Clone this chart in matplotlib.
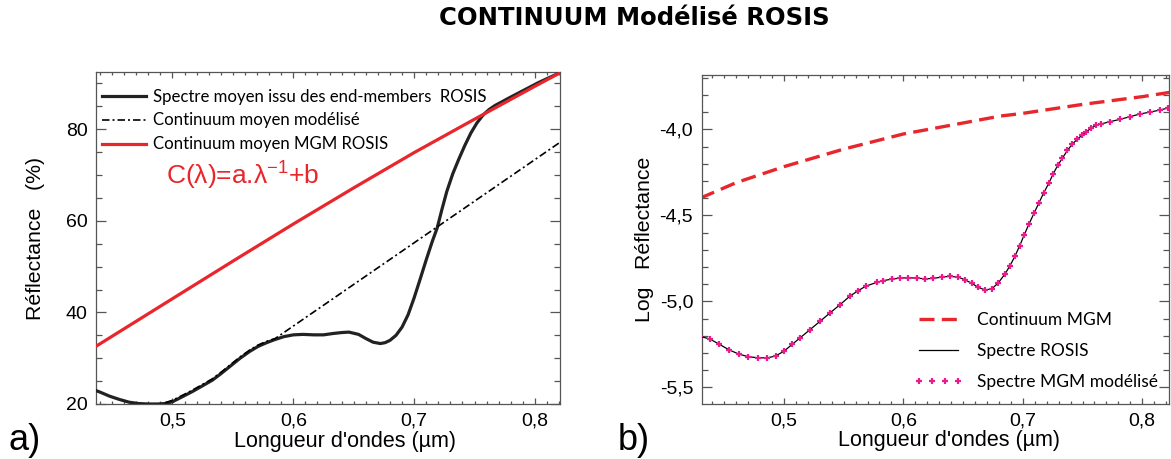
import matplotlib
matplotlib.use('Agg')
import matplotlib.pyplot as plt
from matplotlib.ticker import MultipleLocator, FixedLocator, FixedFormatter

plt.rcParams['font.family'] = ['Liberation Sans', 'DejaVu Sans']
plt.rcParams['mathtext.fontset'] = 'custom'
plt.rcParams['mathtext.rm'] = 'Liberation Sans'

# ---------------- data : panel a) ----------------
wl_a = [0.432, 0.440, 0.448, 0.456, 0.464, 0.472, 0.480, 0.488, 0.494, 0.500,
        0.509, 0.517, 0.525, 0.533, 0.540, 0.548, 0.556, 0.564, 0.571, 0.578,
        0.584, 0.592, 0.600, 0.608, 0.617, 0.625, 0.633, 0.640, 0.646, 0.654,
        0.660, 0.666, 0.672, 0.676, 0.680, 0.685, 0.690, 0.695, 0.700, 0.705,
        0.710, 0.715, 0.719, 0.723, 0.727, 0.732, 0.737, 0.742, 0.747, 0.752,
        0.757, 0.762, 0.767, 0.772, 0.779, 0.787, 0.795, 0.803, 0.812, 0.822]
spectre_moyen = [23.4, 22.6, 21.7, 21.0, 20.4, 20.1, 20.0, 20.0, 20.1, 20.5,
                 21.7, 22.8, 24.0, 25.2, 26.6, 28.3, 30.0, 31.5, 32.6, 33.4,
                 34.0, 34.7, 35.1, 35.2, 35.1, 35.1, 35.4, 35.6, 35.7, 35.2,
                 34.3, 33.5, 33.2, 33.4, 33.9, 35.0, 36.8, 39.5, 43.2, 47.3,
                 51.5, 55.5, 58.4, 62.5, 66.4, 70.3, 73.5, 76.5, 79.2, 81.4,
                 83.1, 84.3, 85.2, 85.9, 86.9, 88.0, 89.1, 90.2, 91.3, 92.5]

wl_cont = [0.494, 0.500, 0.509, 0.517, 0.525, 0.533, 0.540, 0.548, 0.556,
           0.564, 0.571, 0.578, 0.585, 0.821]
continuum_modelise = [20.3, 20.8, 22.0, 23.1, 24.3, 25.5, 26.9, 28.6, 30.3,
                      31.8, 32.9, 33.7, 34.3, 77.2]

wl_mgm_a = [0.430, 0.500, 0.550, 0.600, 0.650, 0.700, 0.750, 0.800, 0.822]
continuum_mgm_a = [31.5, 43.0, 51.2, 59.3, 67.2, 74.9, 82.2, 89.4, 92.5]

# ---------------- data : panel b) ----------------
wl_b = [0.430, 0.438, 0.446, 0.454, 0.462, 0.470, 0.478, 0.486, 0.493, 0.500,
        0.507, 0.5134, 0.5218, 0.5301, 0.5385, 0.5469, 0.5552, 0.5622, 0.5685,
        0.5776, 0.5831, 0.5901, 0.5971, 0.6041, 0.6111, 0.6180, 0.6250, 0.6320,
        0.6390, 0.6460, 0.6515, 0.6571, 0.6627, 0.6682, 0.6738, 0.6793, 0.6849,
        0.6891, 0.6933, 0.6974, 0.7011, 0.7052, 0.7094, 0.7136, 0.7176, 0.7218,
        0.7254, 0.7293, 0.7332, 0.7374, 0.7413, 0.7455, 0.7494, 0.7533, 0.7575,
        0.7614, 0.7658, 0.7728, 0.7812, 0.7895, 0.7979, 0.8063, 0.8146, 0.8216]
log_spectre_rosis = [-5.204, -5.219, -5.250, -5.282, -5.306, -5.322, -5.328,
                     -5.329, -5.318, -5.290, -5.250, -5.213, -5.165, -5.117,
                     -5.068, -5.020, -4.970, -4.938, -4.912, -4.890, -4.880,
                     -4.871, -4.865, -4.863, -4.865, -4.869, -4.867, -4.859,
                     -4.855, -4.859, -4.875, -4.894, -4.919, -4.933, -4.929,
                     -4.894, -4.843, -4.795, -4.739, -4.677, -4.615, -4.550,
                     -4.488, -4.426, -4.368, -4.313, -4.259, -4.209, -4.167,
                     -4.122, -4.087, -4.058, -4.035, -4.014, -3.991, -3.977,
                     -3.968, -3.956, -3.942, -3.927, -3.911, -3.900, -3.888,
                     -3.876]
log_spectre_mgm = list(log_spectre_rosis)

wl_cont_b = [0.430, 0.460, 0.500, 0.550, 0.600, 0.650, 0.681, 0.700, 0.750,
             0.800, 0.823]
log_continuum_mgm = [-4.400, -4.310, -4.217, -4.115, -4.027, -3.963, -3.923,
                     -3.907, -3.855, -3.810, -3.785]

# tick labels
xticks = [0.5, 0.6, 0.7, 0.8]
xtick_labels = ['0,5', '0,6', '0,7', '0,8']
yticks_a = [20, 40, 60, 80]
ytick_labels_a = ['20', '40', '60', '80']
yticks_b = [-5.5, -5.0, -4.5, -4.0]
ytick_labels_b = ['-5,5', '-5,0', '-4,5', '-4,0']

# ---------------- figure ----------------
W, H = 1171, 459
fig = plt.figure(figsize=(W / 100, H / 100), dpi=100)


def rect(x0, x1, ytop, ybot):
    return [x0 / W, 1 - ybot / H, (x1 - x0) / W, (ybot - ytop) / H]


axA = fig.add_axes(rect(96, 560, 72, 404))
axB = fig.add_axes(rect(701.5, 1169, 75, 404))

red = '#e8262b'
spine_c = '#555555'

# panel a
axA.plot(wl_a, spectre_moyen, color='#222222', lw=2.3, zorder=3,
         solid_joinstyle='round',
         label='Spectre moyen issu des end-members  ROSIS')
axA.plot(wl_cont, continuum_modelise, color='black', lw=1.2,
         dashes=(4.5, 1.8, 1.2, 1.8), zorder=4,
         label='Continuum moyen modélisé')
axA.plot(wl_mgm_a, continuum_mgm_a, color=red, lw=2.3, zorder=5,
         label='Continuum moyen MGM ROSIS')
axA.set_xlim(0.4367, 0.8207)
axA.set_ylim(20, 92.5)

# panel b
axB.plot(wl_cont_b, log_continuum_mgm, color=red, lw=2.4, dashes=(4.5, 2.2),
         label='Continuum MGM')
axB.plot(wl_b, log_spectre_rosis, color='black', lw=0.9, zorder=3,
         label='Spectre ROSIS')
axB.plot(wl_b, log_spectre_mgm, linestyle='none', marker='+', ms=4.2, mew=1.6,
         color='#ec1a8c', zorder=4, label='Spectre MGM modélisé')
axB.set_xlim(0.431, 0.8224)
axB.set_ylim(-5.597, -3.684)

for ax, yt, ytl, ymin in ((axA, yticks_a, ytick_labels_a, 5),
                          (axB, yticks_b, ytick_labels_b, 0.1)):
    ax.xaxis.set_major_locator(FixedLocator(xticks))
    ax.xaxis.set_major_formatter(FixedFormatter(xtick_labels))
    ax.xaxis.set_minor_locator(MultipleLocator(0.01))
    ax.yaxis.set_major_locator(FixedLocator(yt))
    ax.yaxis.set_major_formatter(FixedFormatter(ytl))
    ax.yaxis.set_minor_locator(MultipleLocator(ymin))
    ax.tick_params(which='both', direction='in', top=True, right=True,
                   color=spine_c, width=0.9, labelsize=14)
    ax.tick_params(axis='x', which='major', length=4.5, pad=6)
    ax.tick_params(axis='x', which='minor', length=2.2)
    ax.tick_params(axis='y', which='major', length=7.5, pad=6)
    ax.tick_params(axis='y', which='minor', length=4)
    for s in ax.spines.values():
        s.set_color(spine_c)
        s.set_linewidth(0.9)
    ax.set_xlabel("Longueur d'ondes (µm)", fontsize=15.5)

axA.xaxis.set_label_coords(0.537, -0.08)
axB.xaxis.set_label_coords(0.530, -0.08)
axA.set_ylabel('Réflectance   (%)', fontsize=15.3)
axB.set_ylabel('Log   Réflectance', fontsize=15.3)
axA.yaxis.set_label_coords(-0.110, 0.5)
axB.yaxis.set_label_coords(-0.102, 0.5)

legA = axA.legend(loc='upper left', bbox_to_anchor=(0.013, 0.950),
                  frameon=False, prop={'family': 'Lato', 'size': 12.1},
                  handlelength=2.6, handletextpad=0.45, labelspacing=0.47,
                  borderpad=0, borderaxespad=0)
legB = axB.legend(loc='upper left', bbox_to_anchor=(0.455, 0.28),
                  frameon=False, prop={'family': 'Lato', 'size': 12.5},
                  handlelength=2.8, handletextpad=0.8, labelspacing=0.88,
                  borderpad=0, borderaxespad=0, numpoints=4)

axA.text(0.15, 0.69, r'C(λ)=a.λ$^{\mathregular{-1}}$+b', transform=axA.transAxes,
         color=red, fontsize=19, va='center', ha='left')

fig.text(634 / W, 1 - 18 / H, 'CONTINUUM Modélisé ROSIS', ha='center',
         va='center', fontsize=17.5, fontweight='bold', family='DejaVu Sans')
fig.text(8 / W, 1 - 440 / H, 'a)', fontsize=26, va='center', ha='left')
fig.text(618 / W, 1 - 440 / H, 'b)', fontsize=26, va='center', ha='left')

fig.savefig('out.png', dpi=100)
